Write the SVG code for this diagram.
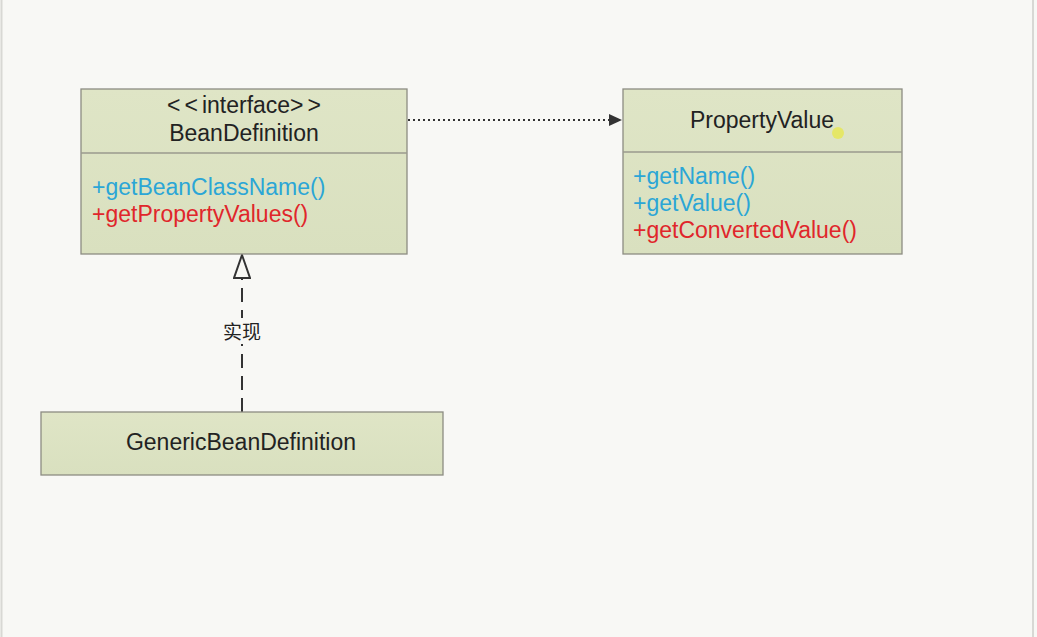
<svg xmlns="http://www.w3.org/2000/svg" width="1037" height="637" viewBox="0 0 1037 637">
<style>
.box{fill:url(#g);stroke:#8c8c82;stroke-width:1.3}
.div{stroke:#9a9a8e;stroke-width:1.3}
.t{font-family:"Liberation Sans",Arial,sans-serif;font-size:23px;fill:#222}
.c{text-anchor:middle}
.blue{fill:#2ba6d6}
.red{fill:#e0262b}
.cjk{font-family:"Noto Sans CJK SC",sans-serif;font-size:19px;fill:#222;text-anchor:middle}
</style>
<defs>
<linearGradient id="g" x1="0" y1="0" x2="0" y2="1">
<stop offset="0" stop-color="#dfe5c6"/>
<stop offset="1" stop-color="#d9e0bf"/>
</linearGradient>
<marker id="fill" markerWidth="14" markerHeight="12" refX="13" refY="6" orient="auto" markerUnits="userSpaceOnUse">
<path d="M0,0 L13,6 L0,12 z" fill="#333"/>
</marker>
<marker id="tri" markerWidth="18" markerHeight="26" refX="9" refY="1" orient="0" markerUnits="userSpaceOnUse">
<path d="M9,1 L17,24 L1,24 z" fill="#f8f8f4" stroke="#333" stroke-width="2"/>
</marker>
</defs>
<rect width="1037" height="637" fill="#f8f8f5"/>
<line x1="1.5" y1="0" x2="1.5" y2="637" stroke="#d8d8d4" stroke-width="2"/>
<line x1="1033" y1="0" x2="1033" y2="637" stroke="#d8d8d4" stroke-width="2"/>
<g id="connectors">
<line x1="408" y1="120" x2="622" y2="120" stroke="#333" stroke-width="2" stroke-dasharray="2,3" marker-end="url(#fill)"/>
<line x1="242" y1="412" x2="242" y2="255" stroke="#333" stroke-width="2" stroke-dasharray="14,8" marker-end="url(#tri)"/>
<rect x="219" y="318" width="46" height="26" fill="#f8f8f5"/>
<text class="cjk" x="242" y="339">实现</text>
</g>
<g id="BeanDefinition">
<rect class="box" x="81" y="89" width="326" height="165"/>
<line class="div" x1="81" y1="153" x2="407" y2="153"/>
<text class="t c" x="244" y="113"><tspan letter-spacing="4">&lt;&lt;</tspan>interface<tspan letter-spacing="4">&gt;</tspan>&gt;</text>
<text class="t c" x="244" y="141">BeanDefinition</text>
<text class="t blue" x="92" y="195">+getBeanClassName()</text>
<text class="t red" x="92" y="222">+getPropertyValues()</text>
</g>
<g id="PropertyValue">
<rect class="box" x="623" y="89" width="279" height="165"/>
<line class="div" x1="623" y1="152" x2="902" y2="152"/>
<text class="t c" x="762" y="128">PropertyValue</text>
<circle cx="838" cy="133" r="6" fill="#e8e840" opacity="0.7"/>
<text class="t blue" x="633" y="184">+getName()</text>
<text class="t blue" x="633" y="211">+getValue()</text>
<text class="t red" x="633" y="238">+getConvertedValue()</text>
</g>
<g id="GenericBeanDefinition">
<rect class="box" x="41" y="412" width="402" height="63"/>
<text class="t c" x="241" y="450">GenericBeanDefinition</text>
</g>
</svg>
